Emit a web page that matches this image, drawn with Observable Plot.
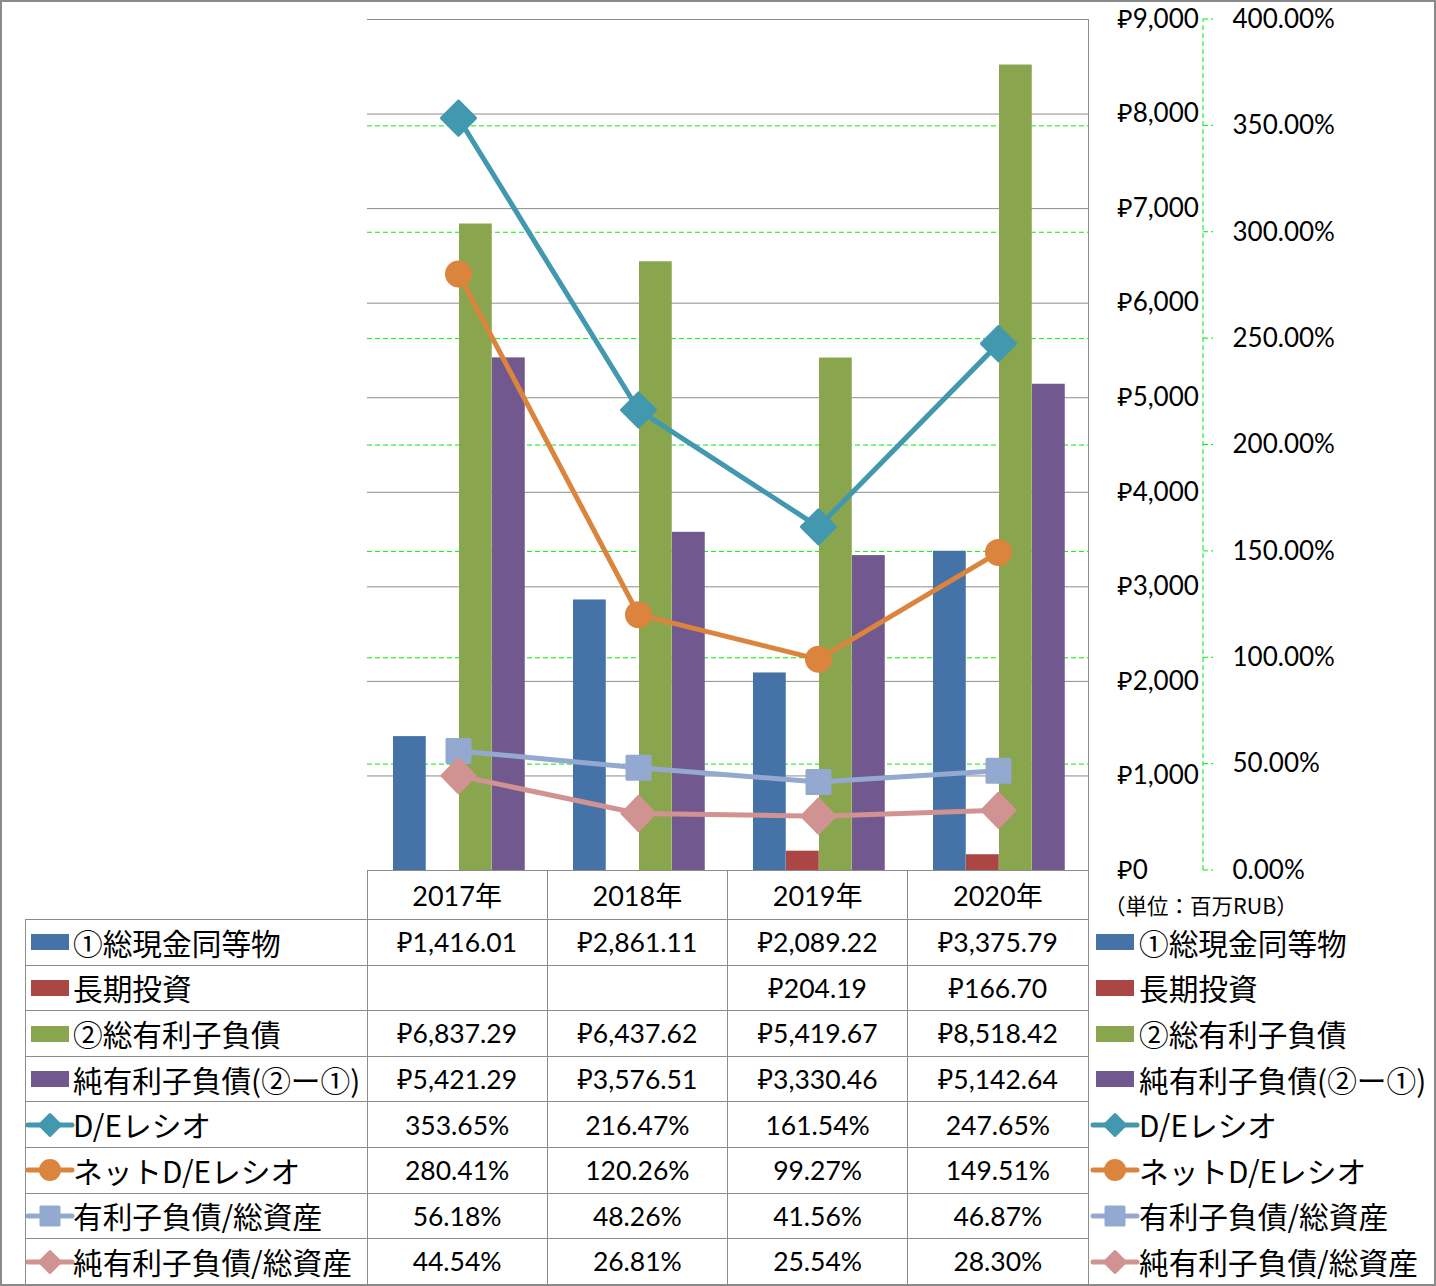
<!DOCTYPE html>
<html><head><meta charset="utf-8">
<script src="https://cdn.jsdelivr.net/npm/d3@7"></script>
<script src="https://cdn.jsdelivr.net/npm/@observablehq/plot@0.6"></script>
<style>
body{margin:0;background:#fff;}
#root{position:relative;width:1436px;height:1286px;overflow:hidden;background:#fff;}
#chart{position:absolute;left:0;top:0;}
#frame{position:absolute;left:0;top:0;width:1436px;height:1286px;border:2px solid #8a8a8a;box-sizing:border-box;pointer-events:none;}
.ln{position:absolute;background:#8c8c8c;}
.cell{position:absolute;box-sizing:border-box;display:flex;align-items:center;justify-content:center;font-family:Lato,"Noto Sans","Noto Sans CJK JP",sans-serif;font-size:26.5px;color:#000;white-space:nowrap;}
.lab{position:absolute;display:flex;align-items:center;font-family:"Noto Sans CJK JP",sans-serif;font-size:29.7px;color:#000;white-space:nowrap;}
.sw{position:absolute;}
</style></head>
<body><div id="root"><div id="chart"></div><div id="table"></div><div id="frame"></div></div>
<script>
// ---- data ----
const years = ["2017年", "2018年", "2019年", "2020年"];
const cash = [1416.01, 2861.11, 2089.22, 3375.79];
const longTermInvest = [null, null, 204.19, 166.70];
const totalDebt = [6837.29, 6437.62, 5419.67, 8518.42];
const netDebt = [5421.29, 3576.51, 3330.46, 5142.64];
const deRatio = [353.65, 216.47, 161.54, 247.65];
const netDeRatio = [280.41, 120.26, 99.27, 149.51];
const debtToAssets = [56.18, 48.26, 41.56, 46.87];
const netDebtToAssets = [44.54, 26.81, 25.54, 28.30];
const rubTicks = [0, 1000, 2000, 3000, 4000, 5000, 6000, 7000, 8000, 9000];
const pctTicks = [0, 50, 100, 150, 200, 250, 300, 350, 400];
const unitNote = "（単位：百万RUB）";

// ---- series config ----
const barSeries = [
  {name: "①総現金同等物", values: cash, color: "#4572A7"},
  {name: "長期投資", values: longTermInvest, color: "#AA4643"},
  {name: "②総有利子負債", values: totalDebt, color: "#89A54E"},
  {name: "純有利子負債(②ー①)", values: netDebt, color: "#71588F"}
];
const lineSeries = [
  {name: "D/Eレシオ", values: deRatio, color: "#4198AF", marker: "diamond"},
  {name: "ネットD/Eレシオ", values: netDeRatio, color: "#DB843D", marker: "circle"},
  {name: "有利子負債/総資産", values: debtToAssets, color: "#93A9CF", marker: "square"},
  {name: "純有利子負債/総資産", values: netDebtToAssets, color: "#D19392", marker: "diamond2"}
];

const rubMax = 9000, pctMax = 400;
const pctToY = p => p / pctMax * rubMax;
const fmtRub = v => v == null ? "" : "₽" + d3.format(",.2f")(v);
const fmtPct = v => v == null ? "" : v.toFixed(2) + "%";

// ---- symbols ----
const diamondSym = (hw, hh) => ({draw(ctx) { ctx.moveTo(0, -hh); ctx.lineTo(hw, 0); ctx.lineTo(0, hh); ctx.lineTo(-hw, 0); ctx.closePath(); }});
const rectSym = (hw, hh) => ({draw(ctx) { ctx.moveTo(-hw, -hh); ctx.lineTo(hw, -hh); ctx.lineTo(hw, hh); ctx.lineTo(-hw, hh); ctx.closePath(); }});
const markerSymbols = {
  diamond: diamondSym(17, 17),
  square: rectSym(11.5, 11.5),
  diamond2: diamondSym(16.5, 17)
};

// ---- chart ----
const W = 1436, H = 900, mL = 367, mR = 348, mT = 19, mB = 30;
const band = (W - mL - mR) / years.length;
const groupOffset = 25, barW = 33;

const marks = [];
marks.push(Plot.ruleY(pctTicks.filter(p => p > 0 && p < pctMax).map(pctToY), {stroke: "#00ee00", strokeWidth: 1, strokeDasharray: "5,3"}));
marks.push(Plot.ruleY(rubTicks.filter(v => v > 0), {stroke: "#8c8c8c", strokeWidth: 1}));
barSeries.forEach((s, i) => {
  const rows = years.map((yr, j) => ({year: yr, v: s.values[j]})).filter(d => d.v != null);
  marks.push(Plot.barY(rows, {x: "year", y: "v", fill: s.color,
    insetLeft: groupOffset + barW * i, insetRight: band - groupOffset - barW * (i + 1)}));
});
lineSeries.forEach(s => {
  const rows = years.map((yr, j) => ({year: yr, v: pctToY(s.values[j])}));
  marks.push(Plot.line(rows, {x: "year", y: "v", stroke: s.color, strokeWidth: 5, strokeLinejoin: "round"}));
});
lineSeries.forEach(s => {
  const rows = years.map((yr, j) => ({year: yr, v: pctToY(s.values[j])}));
  if (s.marker === "circle") {
    marks.push(Plot.dot(rows, {x: "year", y: "v", r: 13.5, fill: s.color, stroke: "none"}));
  } else {
    marks.push(Plot.dot(rows, {x: "year", y: "v", symbol: markerSymbols[s.marker], r: 10, fill: s.color, stroke: s.color, strokeWidth: 3, strokeLinejoin: "round"}));
  }
});
// RUB axis (labels left-aligned at x≈1117)
marks.push(Plot.axisY({anchor: "right", ticks: rubTicks, tickSize: 0, tickPadding: 0, dx: 29,
  tickFormat: d => "₽" + d3.format(",")(d), label: null}));
// percent axis labels
marks.push(Plot.axisY({anchor: "right", ticks: pctTicks.map(pctToY), tickSize: 0, tickPadding: 0, dx: 144,
  tickFormat: d => fmtPct(Math.round(d / rubMax * pctMax)), label: null}));
// percent axis line + ticks (green dashed)
marks.push((index, scales, values, dims) => {
  const x0 = dims.width - dims.marginRight + 115;
  const g = d3.create("svg:g").attr("fill", "none").attr("stroke", "#00ee00").attr("stroke-dasharray", "5,3");
  g.append("line").attr("x1", x0).attr("x2", x0).attr("y1", scales.y(0)).attr("y2", scales.y(rubMax));
  pctTicks.forEach(p => {
    const y = scales.y(pctToY(p));
    g.append("line").attr("x1", x0).attr("x2", x0 + 10).attr("y1", y).attr("y2", y);
  });
  return g.node();
});

const chart = Plot.plot({
  width: W, height: H, marginLeft: mL, marginRight: mR, marginTop: mT, marginBottom: mB,
  x: {domain: years, type: "band", padding: 0, axis: null},
  y: {domain: [0, rubMax], label: null},
  style: {fontFamily: "Lato, 'Noto Sans', 'DejaVu Sans', sans-serif", fontSize: "26px", color: "#000", background: "transparent", overflow: "visible"},
  marks
});
document.getElementById("chart").appendChild(chart);

// ---- data table ----
const T = document.getElementById("table");
const colEdges = [25, 367, 367 + band, 367 + 2 * band, 367 + 3 * band, 1088];
const headTop = 870, rowTop0 = 919.5, rowH = 45.6;
const nRows = barSeries.length + lineSeries.length;
function el(cls, css, html) {
  const d = document.createElement("div");
  d.className = cls;
  Object.assign(d.style, css);
  if (html != null) d.innerHTML = html;
  T.appendChild(d);
  return d;
}
const px = v => v + "px";
function hline(x1, x2, y) { el("ln", {left: px(x1), top: px(y - 0.5), width: px(x2 - x1), height: "1px"}); }
function vline(x, y1, y2) { el("ln", {left: px(x - 0.5), top: px(y1), width: "1px", height: px(y2 - y1)}); }
const bottom = rowTop0 + nRows * rowH;
hline(colEdges[1], colEdges[5], headTop);
for (let r = 0; r <= nRows; r++) hline(colEdges[0], colEdges[5], rowTop0 + r * rowH);
vline(colEdges[0], rowTop0, bottom);
for (let c = 1; c <= 4; c++) vline(colEdges[c], headTop, bottom);
vline(colEdges[5], mT, bottom);

years.forEach((yr, c) => {
  el("cell", {left: px(colEdges[c + 1]), top: px(headTop), width: px(band), height: px(rowTop0 - headTop), fontSize: "27px"}, yr);
});
el("lab", {left: "1104px", top: "891px", height: "26px", fontSize: "21.5px"}, unitNote);

function swatch(s, kind) {
  if (kind === "bar") return `<svg width="46" height="20"><rect x="4" y="2" width="38" height="16" fill="${s.color}"/></svg>`;
  let m;
  if (s.marker === "circle") m = `<circle cx="23" cy="10" r="11" fill="${s.color}"/>`;
  else if (s.marker === "square") m = `<rect x="14" y="1" width="18" height="18" fill="${s.color}" stroke="${s.color}" stroke-width="3" stroke-linejoin="round"/>`;
  else m = `<path d="M23,-0.5L33.5,10L23,20.5L12.5,10Z" fill="${s.color}" stroke="${s.color}" stroke-width="3" stroke-linejoin="round"/>`;
  return `<svg width="46" height="20" style="overflow:visible"><line x1="1" x2="45" y1="10" y2="10" stroke="${s.color}" stroke-width="5" stroke-linecap="round"/>${m}</svg>`;
}
const allRows = barSeries.map(s => ({s, kind: "bar", fmt: fmtRub})).concat(lineSeries.map(s => ({s, kind: "line", fmt: fmtPct})));
allRows.forEach((row, r) => {
  const top = rowTop0 + r * rowH;
  const sw = swatch(row.s, row.kind);
  el("sw", {left: "27px", top: px(top + rowH / 2 - 10), width: "46px", height: "20px"}, sw);
  el("lab", {left: "73px", top: px(top), height: px(rowH)}, row.s.name);
  el("sw", {left: "1092px", top: px(top + rowH / 2 - 10), width: "46px", height: "20px"}, sw);
  el("lab", {left: "1139px", top: px(top), height: px(rowH)}, row.s.name);
  row.s.values.forEach((v, c) => {
    el("cell", {left: px(colEdges[c + 1]), top: px(top), width: px(band), height: px(rowH)}, row.fmt(v));
  });
});
</script>
</body></html>
